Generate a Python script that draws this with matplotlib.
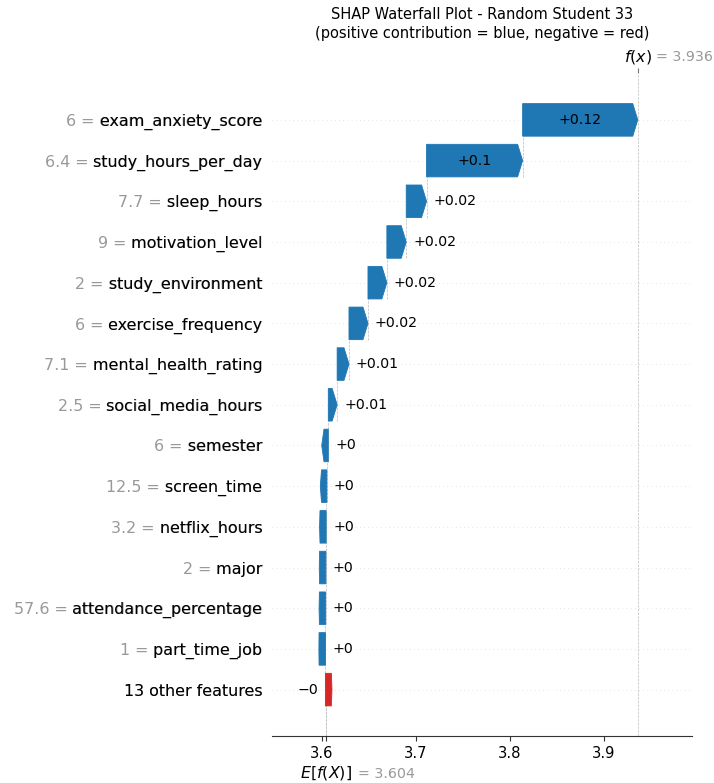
import numpy as np
import matplotlib
matplotlib.use("Agg")
import matplotlib.pyplot as plt
from matplotlib.patches import Polygon

# Feature rows, listed from top to bottom of the waterfall
feature_names = [
    "exam_anxiety_score", "study_hours_per_day", "sleep_hours", "motivation_level",
    "study_environment", "exercise_frequency", "mental_health_rating",
    "social_media_hours", "semester", "screen_time", "netflix_hours", "major",
    "attendance_percentage", "part_time_job", "13 other features",
]
feature_values = [
    "6", "6.4", "7.7", "9", "2", "6", "7.1", "2.5", "6", "12.5", "3.2", "2",
    "57.6", "1", None,
]
shap_values = [
    0.1225, 0.1022, 0.0216, 0.0206, 0.0201, 0.0202, 0.0126, 0.0094,
    0.0015, 0.0008, 0.0003, 0.0002, 0.0002, 0.0001, -0.0004,
]
base_value = 3.6043
x_ticks = [3.6, 3.7, 3.8, 3.9]
title_text = "SHAP Waterfall Plot - Random Student 33\n(positive contribution = blue, negative = red)"

POS_COLOR = "#1f77b4"
NEG_COLOR = "#d62728"
GRAY = "#999999"
BAR_H = 0.8
HEAD = 0.0053     # arrow head length (data units)
STUB = 0.007      # drawn width of near-zero contributions

fx = base_value + sum(shap_values)
n = len(feature_names)
rows = np.arange(n)[::-1]


def fmt(v):
    s = "%+0.02f" % v
    s = s.rstrip("0").rstrip(".")
    return s.replace("-", "\u2212")


def fmt3(v):
    return ("%0.03f" % v)


fig = plt.figure(figsize=(7.14, 7.83), dpi=100)
ax = fig.add_axes([272 / 714, 1 - 736 / 783, 420 / 714, (736 - 73.5) / 783])
ax.set_xlim(3.5471, 3.9939)
ax.set_ylim(-1.14, n - 1 + 1.14)

# dotted row guides
for y in rows:
    ax.axhline(y, color="#cccccc", lw=0.5, dashes=(1, 5), zorder=-1)

fig.canvas.draw()
renderer = fig.canvas.get_renderer()

loc = fx
h = BAR_H / 2
for i, (y, v) in enumerate(zip(rows, shap_values)):
    end = loc
    loc -= v
    start = loc
    color = POS_COLOR if v >= 0 else NEG_COLOR
    d = 1 if v >= 0 else -1

    # dashed connector at the start of each step
    ax.plot([start, start], [y - 1 - 0.4, y + 0.4], color="#bbbbbb",
            linestyle="--", linewidth=0.5, zorder=-1)

    if abs(v) >= HEAD:
        neck = end - d * HEAD
        pts = [(start, y - h), (neck, y - h), (end, y), (neck, y + h), (start, y + h)]
    else:
        tail = end - d * STUB
        notch = tail + d * 1.6 * abs(v)
        pts = [(end, y - h), (notch, y - h), (tail, y), (notch, y + h), (end, y + h)]
    poly = Polygon(pts, closed=True, facecolor=color, edgecolor=color, lw=0.6, zorder=2)
    ax.add_patch(poly)

    label = fmt(v)
    txt = ax.text((start + end) / 2, y, label, ha="center", va="center",
                  fontsize=10.2, color="black", zorder=3)
    tb = txt.get_window_extent(renderer=renderer)
    pb = poly.get_window_extent(renderer=renderer)
    if tb.width > pb.width or abs(v) < HEAD:
        txt.remove()
        ax.annotate(label, xy=(end, y), xytext=(5 * d, 0), textcoords="offset points",
                    ha="left" if d > 0 else "right", va="center", fontsize=10.2,
                    color="black", zorder=3)

# f(x) and E[f(X)] guide lines
ax.axvline(fx, 0, 1, color="#bbbbbb", linestyle="--", linewidth=0.5, zorder=-1)
ax.axvline(base_value, 0, 1 / n, color="#bbbbbb", linestyle="--", linewidth=0.5, zorder=-1)

# y tick labels: gray "value = name" underneath black "name"
gray_labels = []
black_labels = []
for name, val in zip(feature_names, feature_values):
    if val is None:
        gray_labels.append(name)
        black_labels.append(name)
    else:
        gray_labels.append(f"{val} = {name}")
        black_labels.append(f" {name}")
ax.set_yticks(list(rows) + list(rows + 1e-8))
ax.set_yticklabels(gray_labels + black_labels, fontsize=11.4)
for i, t in enumerate(ax.yaxis.get_majorticklabels()):
    t.set_color(GRAY if i < n else "black")
ax.tick_params(axis="y", length=0, pad=7)

ax.set_xticks(x_ticks)
ax.set_xticklabels([f"{t:.1f}" for t in x_ticks], fontsize=10.6)
ax.tick_params(axis="x", length=3.5, width=0.8, color="#333333")
for s in ["left", "right", "top"]:
    ax.spines[s].set_visible(False)
ax.spines["bottom"].set_color("#333333")

# extra tick marks for E[f(X)] (bottom) and f(x) (top)
ax2 = ax.twiny()
ax2.set_xlim(ax.get_xlim())
ax2.xaxis.set_ticks_position("bottom")
ax2.set_xticks([base_value])
ax2.set_xticklabels([""])
ax2.tick_params(axis="x", length=3.5, width=0.8, color="#333333")
ax3 = ax.twiny()
ax3.set_xlim(ax.get_xlim())
ax3.set_xticks([fx])
ax3.set_xticklabels([""])
ax3.tick_params(axis="x", length=3.5, width=0.8, color="#777777")
for a in (ax2, ax3):
    for s in a.spines.values():
        s.set_visible(False)

ax.annotate("$f(x)$", xy=(fx, 1), xycoords=("data", "axes fraction"),
            xytext=(0, 12), textcoords="offset points", ha="center", va="center",
            fontsize=11.4, color="black")
ax.annotate("= " + fmt3(fx), xy=(fx, 1), xycoords=("data", "axes fraction"),
            xytext=(13, 12), textcoords="offset points", ha="left", va="center",
            fontsize=10.3, color=GRAY)
ax.annotate("$E[f(X)]$", xy=(base_value, 0), xycoords=("data", "axes fraction"),
            xytext=(0, -27), textcoords="offset points", ha="center", va="center",
            fontsize=11.4, color="black")
ax.annotate("= " + fmt3(base_value), xy=(base_value, 0), xycoords=("data", "axes fraction"),
            xytext=(23, -27), textcoords="offset points", ha="left", va="center",
            fontsize=10.3, color=GRAY)

fig.text(482 / 714, 1 - 7 / 783, title_text, ha="center", va="top",
         fontsize=10.5, linespacing=1.35)

fig.savefig("out.png", dpi=100)
